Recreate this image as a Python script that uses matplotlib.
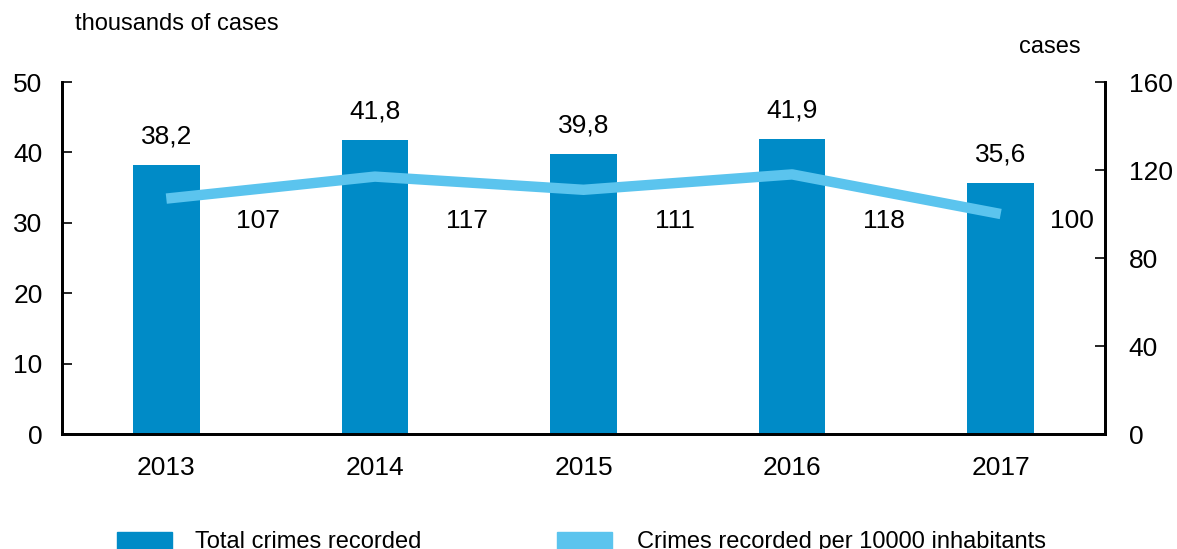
import matplotlib.pyplot as plt
from matplotlib.patches import Rectangle

# ============================================================
# DATA
# ============================================================
years = ["2013", "2014", "2015", "2016", "2017"]
total_crimes = [38.2, 41.8, 39.8, 41.9, 35.6]          # thousands of cases
per_10000 = [107, 117, 111, 118, 100]                   # cases per 10000 inhabitants
bar_labels = ["38,2", "41,8", "39,8", "41,9", "35,6"]
line_labels = ["107", "117", "111", "118", "100"]

BAR_COLOR = "#008BC7"
LINE_COLOR = "#5BC4EE"

plt.rcParams["font.family"] = ["Liberation Sans", "DejaVu Sans"]

fig = plt.figure(figsize=(11.77, 5.49), dpi=100)
ax = fig.add_axes([62 / 1177, 1 - 434 / 549, (1105 - 62) / 1177, (434 - 82) / 549])
ax2 = ax.twinx()

x = list(range(len(years)))
bars = ax.bar(x, total_crimes, width=0.32, color=BAR_COLOR, zorder=2)
ax.bar_label(bars, labels=bar_labels, padding=12, fontsize=19)

ax2.plot(x, per_10000, color=LINE_COLOR, linewidth=7.5, solid_capstyle="butt", zorder=3)
for i, lab in enumerate(line_labels):
    dx = 0.44 if i < len(years) - 1 else 0.34
    ax2.text(i + dx, 97, lab, fontsize=19, ha="center", va="center")

ax.set_xlim(-0.5, len(years) - 0.5)
ax.set_ylim(0, 50)
ax2.set_ylim(0, 160)
ax.set_yticks([0, 10, 20, 30, 40, 50])
ax2.set_yticks([0, 40, 80, 120, 160])
ax.set_xticks(x)
ax.set_xticklabels(years)

ax.tick_params(axis="y", direction="in", length=7, width=1.2, pad=14, labelsize=19)
ax2.tick_params(axis="y", direction="in", length=7, width=1.2, pad=17, labelsize=19)
ax.tick_params(axis="x", length=0, pad=16, labelsize=19)

for a in (ax, ax2):
    a.spines["top"].set_visible(False)
    for s in ("left", "right", "bottom"):
        a.spines[s].set_linewidth(2)

# Axis unit labels
fig.text(75 / 1177, 1 - 24 / 549, "thousands of cases", fontsize=17, ha="left", va="center")
fig.text(1081 / 1177, 1 - 47 / 549, "cases", fontsize=17, ha="right", va="center")

# Legend (partly cut at the bottom like the original)
fig.add_artist(Rectangle((117 / 1177, -0.02), 55 / 1177, 17 / 549 + 0.02,
                         transform=fig.transFigure, color=BAR_COLOR))
fig.text(195 / 1177, 1 - 542 / 549, "Total crimes recorded", fontsize=17, ha="left", va="center")
fig.add_artist(Rectangle((557 / 1177, -0.02), 55 / 1177, 17 / 549 + 0.02,
                         transform=fig.transFigure, color=LINE_COLOR))
fig.text(637 / 1177, 1 - 542 / 549, "Crimes recorded per 10000 inhabitants", fontsize=17,
         ha="left", va="center")

plt.savefig("out.png", dpi=100)
